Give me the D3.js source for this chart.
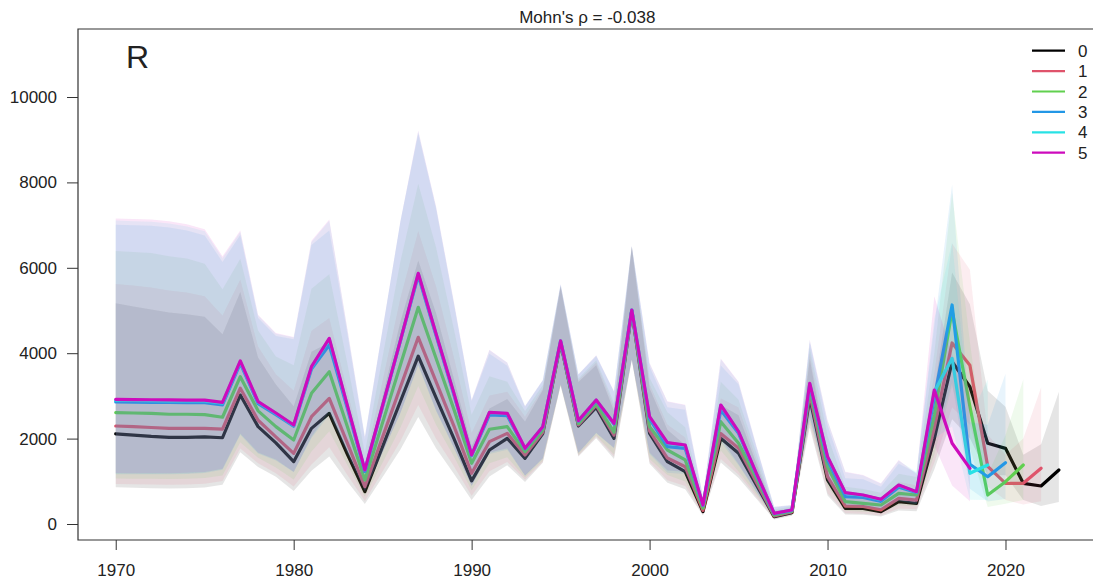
<!DOCTYPE html>
<meta charset="utf-8">

<!-- Load d3.js -->
<script src="https://d3js.org/d3.v7.min.js"></script>

<style>
	body { margin: 0; background: #fff; }
	text { font-family: "Liberation Sans", Arial, sans-serif; fill: #222; }
</style>

<!-- Create a div where the graph will take place -->
<div id="my_dataviz"></div>

<script>
	// Chart data: recruitment estimates, one array per retrospective peel (first year 1970)
	var firstYear = 1970;
	var peels = ["0", "1", "2", "3", "4", "5"];
	var colors = ["#000000", "#DF536B", "#61D04F", "#2297E6", "#28E2E5", "#CD0BBC"];

	var r0 = [2110, 2080, 2050, 2030, 2030, 2040, 2020, 3020, 2280, 1900,
		1460, 2240, 2592, 1650, 757, 1816, 2875, 3930, 2960, 2005,
		1010, 1733, 2006, 1538, 2120, 4240, 2295, 2732, 2006, 4990,
		2120, 1460, 1225, 290, 2006, 1655, 913, 172, 265, 2950,
		1030, 367, 367, 289, 523, 484, 2000, 3800, 3215, 1890,
		1772, 953, 890, 1265];
	var r1 = [2295, 2280, 2260, 2240, 2240, 2240, 2220, 3180, 2430, 2040,
		1655, 2513, 2943, 1910, 874, 2040, 3210, 4372, 3333, 2300,
		1187, 1928, 2123, 1615, 2150, 4250, 2320, 2780, 2080, 5000,
		2180, 1545, 1342, 320, 2120, 1772, 980, 190, 280, 3050,
		1108, 420, 410, 330, 600, 560, 2250, 4240, 3720, 1350,
		953, 953, 1304];
	var r2 = [2610, 2600, 2590, 2570, 2570, 2560, 2500, 3450, 2650, 2280,
		1967, 3060, 3567, 2300, 1030, 2380, 3730, 5075, 3880, 2690,
		1421, 2218, 2280, 1695, 2200, 4260, 2350, 2820, 2150, 5000,
		2280, 1733, 1500, 370, 2396, 1890, 1077, 210, 300, 3150,
		1342, 523, 484, 445, 718, 679, 2550, 5000, 2750, 679,
		991, 1382];
	var r3 = [2860, 2855, 2850, 2845, 2840, 2840, 2790, 3760, 2820, 2560,
		2290, 3630, 4192, 2730, 1230, 2760, 4300, 5820, 4420, 3030,
		1600, 2555, 2540, 1760, 2270, 4280, 2410, 2890, 2340, 5010,
		2460, 1810, 1772, 430, 2670, 2123, 1160, 240, 320, 3250,
		1500, 640, 620, 530, 860, 740, 2950, 5129, 1400, 1108,
		1436];
	var r4 = [2900, 2895, 2890, 2885, 2880, 2880, 2830, 3800, 2855, 2590,
		2310, 3670, 4330, 2790, 1260, 2770, 4290, 5860, 4450, 3060,
		1610, 2610, 2585, 1770, 2278, 4288, 2418, 2900, 2355, 5010,
		2505, 1895, 1840, 442, 2775, 2155, 1182, 248, 326, 3280,
		1570, 725, 672, 572, 905, 750, 3100, 3880, 1187, 1382];
	var r5 = [2920, 2915, 2910, 2905, 2900, 2900, 2850, 3820, 2865, 2600,
		2318, 3684, 4348, 2800, 1265, 2780, 4300, 5871, 4457, 3070,
		1616, 2616, 2592, 1772, 2280, 4290, 2420, 2904, 2357, 5011,
		2513, 1904, 1850, 445, 2787, 2162, 1186, 250, 328, 3295,
		1577, 733, 679, 578, 913, 757, 3138, 1890, 1304];

	// Upper/estimate ratio of the confidence band, by year
	var ciFactor = [2.45, 2.45, 2.45, 2.44, 2.42, 2.38, 2.2, 1.8, 1.71, 1.72,
		1.89, 1.8, 1.64, 1.65, 1.62, 1.65, 1.65, 1.57, 1.67, 1.7,
		1.8, 1.56, 1.46, 1.56, 1.48, 1.31, 1.45, 1.36, 1.32, 1.3,
		1.5, 1.51, 1.51, 1.44, 1.39, 1.54, 1.55, 1.62, 1.36, 1.31,
		1.54, 1.67, 1.69, 1.65, 1.64, 1.62, 1.57, 1.55, 1.6, 1.65,
		1.7, 1.75, 1.8, 1.8];
	// same ratio for the last four years of each peel (terminal year last)
	var tailFactor = [1.55, 1.7, 2.1, 2.45];

	var xTicks = [1970, 1980, 1990, 2000, 2010, 2020];
	var yTicks = [0, 2000, 4000, 6000, 8000, 10000];
	var title = "Mohn's \u03c1 = -0.038";
	var panelLabel = "R";

	var series = [r0, r1, r2, r3, r4, r5];

	// Draw params
	var W = 1093, H = 582;
	var boxL = 78, boxT = 29, boxB = 540, boxR = 1096.6;
	var fontSize = 17;

	var svg = d3.select("#my_dataviz")
		.append("svg")
		.attr("width", W)
		.attr("height", H);

	var x = d3.scaleLinear()
		.domain([1967.88, 2025.12])
		.range([boxL, boxR]);
	var y = d3.scaleLinear()
		.domain([0, 10000])
		.range([524, 97]);

	// clip to the plot box
	svg.append("defs").append("clipPath")
		.attr("id", "frame_clip")
		.append("rect")
		.attr("x", boxL)
		.attr("y", boxT)
		.attr("width", boxR - boxL)
		.attr("height", boxB - boxT);
	var plot = svg.append("g").attr("clip-path", "url(#frame_clip)");

	// Build rows with band bounds for one peel
	function make_rows(vals){
		var n = vals.length;
		return vals.map(function(v, i){
			var t = n - 1 - i;
			var f = t < tailFactor.length ? tailFactor[tailFactor.length - 1 - t] : ciFactor[i];
			return {'year': firstYear + i, 'est': v, 'lo': v / f, 'hi': v * f};
		});
	}

	// Each peel: band first, then its line (later bands tint earlier lines)
	series.forEach(function(vals, p){
		var rows = make_rows(vals);
		plot.append("path")
			.datum(rows)
			.attr("fill", colors[p])
			.attr("fill-opacity", 0.1)
			.attr("stroke", "none")
			.attr("d", d3.area()
				.x((d) => x(d.year))
				.y0((d) => y(d.lo))
				.y1((d) => y(d.hi)));
		plot.append("path")
			.datum(rows)
			.attr("fill", "none")
			.attr("stroke", colors[p])
			.attr("stroke-width", 3.2)
			.attr("stroke-linejoin", "round")
			.attr("stroke-linecap", "round")
			.attr("d", d3.line()
				.x((d) => x(d.year))
				.y((d) => y(d.est)));
	});

	// Frame (left, top, bottom; right edge sits just outside the picture)
	svg.append("path")
		.attr("d", "M" + boxR + "," + boxT + "H" + boxL + "V" + boxB + "H" + boxR)
		.attr("fill", "none")
		.attr("stroke", "#333")
		.attr("stroke-width", 1.2);

	// Y axis
	var yAxis = svg.append("g")
		.attr("transform", "translate(" + boxL + ",0)")
		.call(d3.axisLeft(y).tickValues(yTicks).tickSize(11).tickPadding(10).tickFormat(d3.format("d")));
	yAxis.select(".domain").remove();
	yAxis.selectAll("line").attr("stroke", "#333");
	yAxis.selectAll("text").attr("font-size", fontSize).attr("font-family", null).style("fill", "#222");

	// X axis
	var xAxis = svg.append("g")
		.attr("transform", "translate(0," + boxB + ")")
		.call(d3.axisBottom(x).tickValues(xTicks).tickSize(10).tickPadding(14).tickFormat(d3.format("d")));
	xAxis.select(".domain").remove();
	xAxis.selectAll("line").attr("stroke", "#333");
	xAxis.selectAll("text").attr("font-size", fontSize).attr("font-family", null).style("fill", "#222");

	// Title and panel letter
	svg.append("text")
		.attr("x", (boxL + boxR) / 2)
		.attr("y", 23)
		.attr("text-anchor", "middle")
		.attr("font-size", fontSize)
		.text(title);
	svg.append("text")
		.attr("x", 126)
		.attr("y", 68)
		.attr("font-size", 32)
		.text(panelLabel);

	// Legend
	var legend = svg.append("g");
	peels.forEach(function(name, i){
		var ly = 50.7 + i * 20.4;
		legend.append("line")
			.attr("x1", 1032).attr("x2", 1065)
			.attr("y1", ly).attr("y2", ly)
			.attr("stroke", colors[i])
			.attr("stroke-width", 2.2);
		legend.append("text")
			.attr("x", 1078)
			.attr("y", ly)
			.attr("dy", "0.36em")
			.attr("font-size", fontSize)
			.text(name);
	});
</script>
